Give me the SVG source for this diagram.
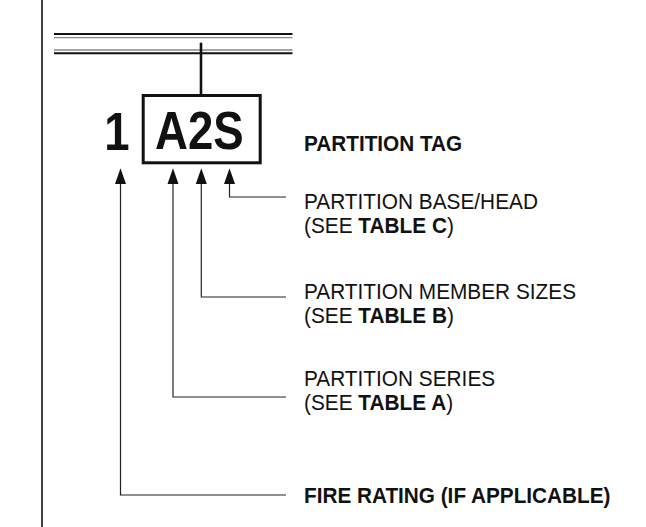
<svg xmlns="http://www.w3.org/2000/svg" width="646" height="527" viewBox="0 0 646 527">
<style>
.lbl{font-family:"Liberation Sans",Arial,sans-serif;font-size:22px;fill:#111}
.b{font-weight:bold}
.big{font-family:"Liberation Sans",Arial,sans-serif;font-size:53px;font-weight:bold;fill:#111;text-anchor:middle}
.conn{fill:none;stroke:#222;stroke-width:1.2}
</style>
<defs>
<path id="ah" d="M0 0 L5.5 15.7 L-5.5 15.7 Z" fill="#111"/>
</defs>
<g id="frame">
<line x1="42" y1="0" x2="42" y2="527" stroke="#111" stroke-width="1.6"/>
</g>
<g id="wall">
<line x1="54" y1="34" x2="292.5" y2="34" stroke="#111" stroke-width="2"/>
<line x1="54" y1="37.7" x2="292.5" y2="37.7" stroke="#888" stroke-width="1.3"/>
<line x1="54" y1="50" x2="292.5" y2="50" stroke="#888" stroke-width="1.3"/>
<line x1="54" y1="53.3" x2="292.5" y2="53.3" stroke="#111" stroke-width="2"/>
</g>
<g id="tag">
<line x1="201" y1="42.7" x2="201" y2="95" stroke="#111" stroke-width="2.6"/>
<rect x="143.2" y="95.5" width="117" height="67.3" fill="none" stroke="#111" stroke-width="3"/>
<text class="big" transform="translate(199.3 149.3) scale(0.86 1)">A2S</text>
</g>
<g id="rating">
<text class="big" transform="translate(117 149.5) scale(0.86 1)">1</text>
</g>
<g id="connectors">
<path class="conn" d="M120.5 184 V495 H286"/>
<path class="conn" d="M173 184 V397 H286"/>
<path class="conn" d="M201.3 184 V297 H286"/>
<path class="conn" d="M229.5 184 V197 H286"/>
<use href="#ah" x="120.5" y="168.3"/>
<use href="#ah" x="173" y="168.3"/>
<use href="#ah" x="201.3" y="168.3"/>
<use href="#ah" x="229.5" y="168.3"/>
</g>
<g id="label-tag">
<text class="lbl b" transform="translate(304 150.7) scale(0.943 1)">PARTITION TAG</text>
</g>
<g id="label-base">
<text class="lbl" transform="translate(304 209.3) scale(0.946 1)">PARTITION BASE/HEAD</text>
<text class="lbl" transform="translate(304 233.3) scale(0.946 1)">(SEE <tspan class="b">TABLE C</tspan>)</text>
</g>
<g id="label-member">
<text class="lbl" transform="translate(304 299) scale(0.946 1)">PARTITION MEMBER SIZES</text>
<text class="lbl" transform="translate(304 323) scale(0.946 1)">(SEE <tspan class="b">TABLE B</tspan>)</text>
</g>
<g id="label-series">
<text class="lbl" transform="translate(304 386) scale(0.946 1)">PARTITION SERIES</text>
<text class="lbl" transform="translate(304 410) scale(0.946 1)">(SEE <tspan class="b">TABLE A</tspan>)</text>
</g>
<g id="label-fire">
<text class="lbl b" transform="translate(304 503.3) scale(0.943 1)">FIRE RATING (IF APPLICABLE)</text>
</g>
</svg>
